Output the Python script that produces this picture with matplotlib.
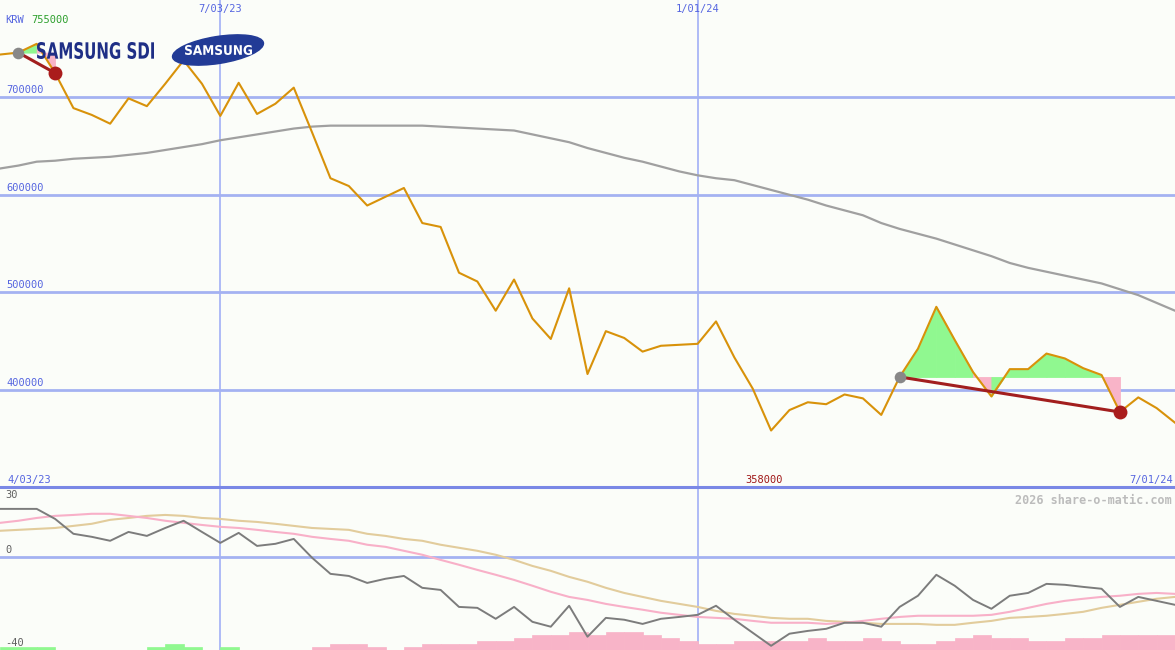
import matplotlib.pyplot as plt
from matplotlib.patches import Ellipse, PathPatch
from matplotlib.textpath import TextPath
from matplotlib.font_manager import FontProperties
import matplotlib.transforms as mtransforms
import numpy as np

# weekly closes (KRW)
price = [744000, 746000, 755000, 725000, 689000, 682000, 673000, 699000, 691000, 714000,
         738000, 714000, 681000, 715000, 683000, 693500, 710000, 664000, 617000, 609000,
         589000, 598000, 607000, 571000, 567000, 520000, 511000, 481000, 513000, 473000,
         452000, 504000, 416000, 460000, 453000, 439000, 445000, 446000, 447000, 470000,
         433000, 401000, 358000, 379000, 387000, 385000, 395000, 391000, 374000, 413000,
         442000, 485000, 451000, 418000, 393000, 421000, 421000, 437000, 432000, 422000,
         415000, 377000, 392000, 381000, 366000]

# long moving average
ma = [627000, 630000, 634000, 635000, 637000, 638000, 639000, 641000, 643000, 646000,
      649000, 652000, 656000, 659000, 662000, 665000, 668000, 670000, 671000, 671000,
      671000, 671000, 671000, 671000, 670000, 669000, 668000, 667000, 666000, 662000,
      658000, 654000, 648000, 643000, 638000, 634000, 629000, 624000, 620000, 617000,
      615000, 610000, 605000, 600000, 595000, 589000, 584000, 579000, 571000, 565000,
      560000, 555000, 549000, 543000, 537000, 530000, 525000, 521000, 517000, 513000,
      509000, 503000, 497000, 489000, 481000]

# oscillator panel
mom = [20.6, 20.6, 20.6, 16.3, 9.9, 8.6, 6.9, 10.7, 9.0, 12.4,
       15.5, 10.7, 6.0, 10.3, 4.7, 5.6, 7.7, -0.4, -7.3, -8.2,
       -11.2, -9.4, -8.2, -13.3, -14.2, -21.5, -21.9, -26.6, -21.5, -27.9,
       -30.0, -21.0, -34.3, -26.2, -27.0, -28.8, -26.6, -25.8, -24.9, -21.0,
       -27.0, -32.6, -38.2, -33.0, -31.8, -30.9, -28.3, -28.3, -30.0, -21.5,
       -16.7, -7.7, -12.4, -18.5, -22.3, -16.7, -15.5, -11.6, -12.0, -12.9,
       -13.7, -21.5, -17.2, -18.9, -20.6]
mom_fast = [14.6, 15.5, 16.7, 17.6, 18.0, 18.5, 18.5, 17.6, 16.7, 15.5,
            14.6, 13.7, 12.9, 12.4, 11.6, 10.7, 9.9, 8.6, 7.7, 6.9,
            5.2, 4.3, 2.6, 0.9, -1.3, -3.4, -5.6, -7.7, -9.9, -12.4,
            -15.0, -17.2, -18.5, -20.2, -21.5, -22.7, -24.0, -24.9, -25.8, -26.2,
            -26.6, -27.5, -28.3, -28.3, -28.3, -28.8, -28.3, -27.5, -26.6, -25.8,
            -25.3, -25.3, -25.3, -25.3, -24.9, -23.6, -21.9, -20.2, -18.9, -18.0,
            -17.2, -16.7, -15.9, -15.5, -15.9]
mom_slow = [11.2, 11.6, 12.0, 12.4, 13.3, 14.2, 15.9, 16.7, 17.6, 18.0,
            17.6, 16.7, 16.3, 15.5, 15.0, 14.2, 13.3, 12.4, 12.0, 11.6,
            9.9, 9.0, 7.7, 6.9, 5.2, 3.9, 2.6, 0.9, -1.3, -3.9,
            -6.0, -8.6, -10.7, -13.3, -15.5, -17.2, -18.9, -20.2, -21.5, -23.2,
            -24.5, -25.3, -26.2, -26.6, -26.6, -27.5, -27.9, -28.3, -28.8, -28.8,
            -28.8, -29.2, -29.2, -28.3, -27.5, -26.2, -25.8, -25.3, -24.5, -23.6,
            -21.9, -20.6, -19.3, -18.0, -17.2]
hist = [1, 1, 1, 0, 0, 0, 0, 0, 1, 2, 1, 0, 1, 0, 0, 0, 0, -1, -2, -2,
        -1, 0, -1, -2, -2, -2, -3, -3, -4, -5, -5, -6, -5, -6, -6, -5, -4, -3, -2, -2,
        -3, -3, -3, -3, -4, -3, -3, -4, -3, -2, -2, -3, -4, -5, -4, -4, -3, -3, -4, -4,
        -5, -5, -5, -5]
hist_step = 1.3

trend_pairs = [(1, 3), (49, 61)]
date_ticks = [12, 38]
date_labels = ['7/03/23', '1/01/24']
start_label = '4/03/23'
end_label = '7/01/24'
price_ticks = [400000, 500000, 600000, 700000]
osc_ticks = [30, 0, -40]

bg = '#fbfdf9'
blue_txt = '#5565e0'
grid_c = '#a4b2f2'
mono = 'DejaVu Sans Mono'


def squeezed_text(axis, s, x0, y_base, width, height, color):
    # text squeezed into a box, for the narrow logo lettering
    tp = TextPath((0, 0), s, size=10, prop=FontProperties(family='DejaVu Sans', weight='bold'))
    ext = tp.get_extents()
    tr = (mtransforms.Affine2D().translate(-ext.x0, -ext.y0)
          .scale(width / ext.width, -height / ext.height).translate(x0, y_base))
    axis.add_patch(PathPatch(tr.transform_path(tp), color=color, lw=0, zorder=8))


weeks = np.arange(len(price))
price = np.array(price)

fig = plt.figure(figsize=(11.75, 6.5), dpi=100)
fig.patch.set_facecolor(bg)
ax = fig.add_axes([0, 163 / 650, 1, 487 / 650])
ax2 = fig.add_axes([0, 0, 1, 163 / 650])
for a in (ax, ax2):
    a.set_facecolor(bg)
    a.set_xlim(0, len(price) - 1)
    a.axis('off')
    for d in date_ticks:
        a.axvline(d, color='#a8b6f6', lw=1.3, zorder=1)
ax.set_ylim(300000, 800000)
ax2.set_ylim(-40, 30)

for v in price_ticks:
    ax.axhline(v, color=grid_c, lw=2, zorder=1)
    ax.annotate(str(v), xy=(0, v), xycoords=('axes fraction', 'data'), xytext=(6, 2),
                textcoords='offset pixels', va='bottom', ha='left', fontsize=7.5,
                family=mono, color=blue_txt)

# highlighted trend sections
for a0, b0 in trend_pairs:
    level = price[a0]
    for i in range(a0, b0):
        seg = weeks[i:i + 2]
        col = '#90f890' if price[i + 1] >= level else '#f8b4c8'
        ax.fill_between(seg, price[i:i + 2], level, facecolor=col, edgecolor=col,
                        lw=0.6, zorder=2)

ax.plot(weeks, ma, color='#a0a0a0', lw=1.6, zorder=3)
ax.plot(weeks, price, color='#d8920a', lw=1.5, zorder=4)

for a0, b0 in trend_pairs:
    ax.plot([a0, b0], [price[a0], price[b0]], color='#a21e1e', lw=2.2, zorder=5)
    ax.scatter([a0], [price[a0]], s=70, color='#888888', zorder=6, lw=0)
    ax.scatter([b0], [price[b0]], s=100, color='#aa1c1c', zorder=6, lw=0)

# date labels
for d, lab in zip(date_ticks, date_labels):
    fig.text(d / (len(price) - 1), 1 - 9 / 650, lab, ha='center', va='center',
             fontsize=7.5, family=mono, color=blue_txt)
ax.text(0.006, 0.005, start_label, transform=ax.transAxes, ha='left', va='bottom',
        fontsize=7.5, family=mono, color=blue_txt)
ax.text(0.998, 0.005, end_label, transform=ax.transAxes, ha='right', va='bottom',
        fontsize=7.5, family=mono, color=blue_txt)
imin = int(np.argmin(price))
ax.annotate(str(price[imin]), xy=(imin, 0), xycoords=('data', 'axes fraction'),
            xytext=(-7, 2), textcoords='offset pixels', ha='center', va='bottom',
            fontsize=7.5, family=mono, color='#a01818')

fig.text(5 / 1175, 1 - 20 / 650, 'KRW', ha='left', va='center', fontsize=7.5,
         family=mono, color=blue_txt)
fig.text(31 / 1175, 1 - 20 / 650, str(price.max()), ha='left', va='center', fontsize=7.5,
         family=mono, color='#2ea02e')

# logos
logo_ax = fig.add_axes([0, 0, 1, 1], facecolor='none')
logo_ax.set_xlim(0, 1175)
logo_ax.set_ylim(650, 0)
logo_ax.axis('off')
squeezed_text(logo_ax, 'SAMSUNG SDI', 37, 59, 117, 17, '#1f2f86')
logo_ax.add_patch(Ellipse((218, 50), 92, 27, angle=-9, color='#223b96', zorder=7))
squeezed_text(logo_ax, 'SAMSUNG', 185, 55, 67, 10, 'white')

# oscillator panel
ax2.axhline(30, color='#7a88e6', lw=2.2, zorder=5, clip_on=False)
ax2.axhline(0, color=grid_c, lw=2, zorder=1)
hist = np.array(hist)
bar_cols = np.where(hist > 0, '#90f890', '#f8b4c8')
ax2.bar(weeks[:len(hist)], np.abs(hist) * hist_step, bottom=-40, width=1, align='edge',
        color=bar_cols, edgecolor=bar_cols, lw=0.5, zorder=2)
ax2.plot(weeks, mom_slow, color='#e2cc9c', lw=1.5, zorder=3)
ax2.plot(weeks, mom_fast, color='#f8b0c8', lw=1.5, zorder=3)
ax2.plot(weeks, mom, color='#7c7c7c', lw=1.4, zorder=4)

for v in osc_ticks:
    if v == 30:
        ax2.annotate(str(v), xy=(0, v), xycoords=('axes fraction', 'data'), xytext=(5, -3),
                     textcoords='offset pixels', va='top', ha='left', fontsize=7.5,
                     family=mono, color='#606060')
    else:
        ax2.annotate(str(v), xy=(0, v), xycoords=('axes fraction', 'data'), xytext=(5, 2),
                     textcoords='offset pixels', va='bottom', ha='left', fontsize=7.5,
                     family=mono, color='#606060')
ax2.text(0.997, 0.955, '2026 share-o-matic.com', transform=ax2.transAxes, ha='right',
         va='top', fontsize=8.5, family=mono, fontweight='bold', color='#bcbcbc')

fig.savefig('out.png', dpi=100, facecolor=bg)
